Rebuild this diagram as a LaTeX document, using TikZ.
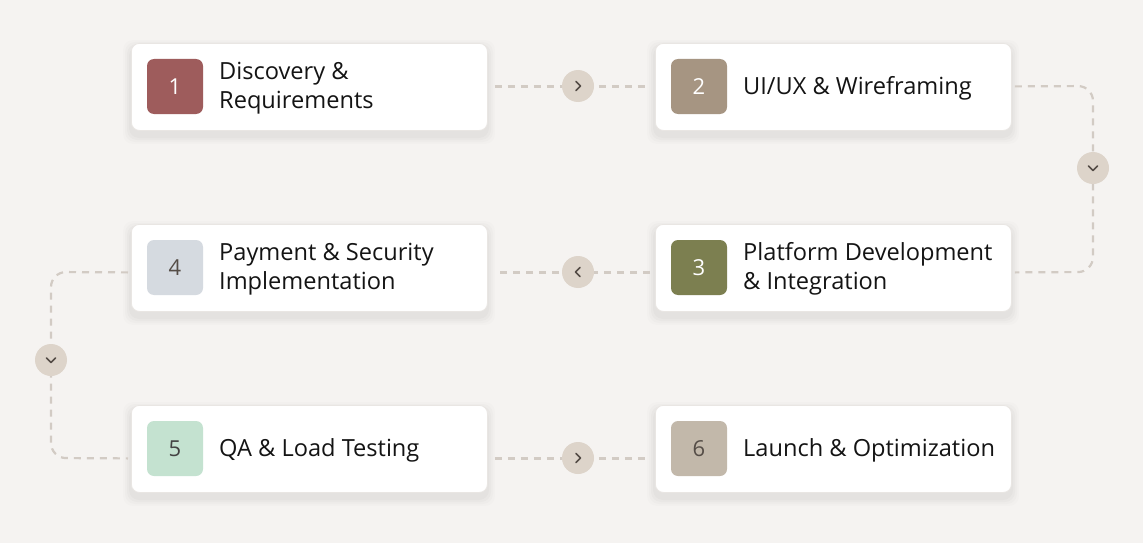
\documentclass[tikz,border=0pt]{standalone}
\usepackage{fontspec}
\setmainfont{Open Sans}
\usetikzlibrary{calc}
\definecolor{bg}{HTML}{F5F3F1}
\definecolor{dashc}{HTML}{D2CBC4}
\definecolor{circ}{HTML}{DDD4CA}
\definecolor{chev}{HTML}{554D47}
\definecolor{txt}{HTML}{141414}
\definecolor{cA}{HTML}{9E5C5C}
\definecolor{cB}{HTML}{A69582}
\definecolor{cC}{HTML}{7C7F50}
\definecolor{cD}{HTML}{D5DAE0}
\definecolor{cE}{HTML}{C4E2D0}
\definecolor{cF}{HTML}{C2B8AA}
\definecolor{edge}{HTML}{E9E6E3}
\tikzset{
  x=1pt,y=-1pt,
  card/.style={draw=edge,line width=0.8pt,fill=white,rounded corners=8pt,minimum width=356pt,minimum height=87pt,inner sep=0pt},
  badge/.style={rounded corners=7pt,minimum width=56pt,minimum height=55pt,inner sep=0pt,font=\fontsize{22}{26}\selectfont},
  label/.style={anchor=west,align=left,text=txt,inner sep=0pt,font=\fontsize{23.6}{28.5}\selectfont},
  flow/.style={dashc,line width=2.2pt,dash pattern=on 7pt off 6pt,rounded corners=15pt},
  knob/.style={circle,fill=circ,minimum size=32pt,inner sep=0pt},
  chv/.style={chev,line width=1.7pt,line cap=round,line join=round}
}
\newcommand{\mycard}[6]{%
  \foreach \k/\o in {8/0.012,6/0.015,4/0.018,2/0.02}{
    \fill[black,opacity=\o,rounded corners=10pt] (#2-\k,#3+5-\k) rectangle (#2+356+\k,#3+87+6+\k);
  }
  \node[card,anchor=north west] (#1) at (#2,#3) {};
  \node[badge,fill=#4] (#1b) at (#2+44,#3+43.5) {#5};
  \node[label] (#1t) at (#2+88,#3+45) {#6};
}
\begin{document}
\begin{tikzpicture}
\fill[bg] (0,0) rectangle (1143,543);
\useasboundingbox (0,0) rectangle (1143,543);

\mycard{s1}{131}{43}{cA}{\textcolor{white}{1}}{Discovery \&\\Requirements}
\mycard{s2}{655}{43}{cB}{\textcolor{white}{2}}{UI/UX \& Wireframing}
\mycard{s3}{655}{224}{cC}{\textcolor{white}{3}}{Platform Development\\\& Integration}
\mycard{s4}{131}{224}{cD}{\textcolor{chev}{4}}{Payment \& Security\\Implementation}
\mycard{s5}{131}{405}{cE}{\textcolor{txt!80}{5}}{QA \& Load Testing}
\mycard{s6}{655}{405}{cF}{\textcolor{chev}{6}}{Launch \& Optimization}

\coordinate (e1) at ($(s1.east)+(7,-0.5)$);
\coordinate (w2) at ($(s2.west)+(-5,-0.5)$);
\coordinate (e2) at ($(s2.east)+(3,-0.5)$);
\coordinate (e3) at ($(s3.east)+(3,4.5)$);
\coordinate (w3) at ($(s3.west)+(-5,4.5)$);
\coordinate (e4) at ($(s4.east)+(7,4.5)$);
\coordinate (w4) at ($(s4.west)+(-3,4.5)$);
\coordinate (w5) at ($(s5.west)+(-3,9.5)$);
\coordinate (e5) at ($(s5.east)+(7,9.5)$);
\coordinate (w6) at ($(s6.west)+(-5,9.5)$);
\coordinate (r1) at (1093,86);
\coordinate (r2) at (1093,272);
\coordinate (l1) at (51,272);
\coordinate (l2) at (51,458);

\draw[flow] (e1) -- (w2);
\draw[flow] (e2) -- (r1) -- (r2) -- (e3);
\draw[flow] (w3) -- (e4);
\draw[flow] (w4) -- (l1) -- (l2) -- (w5);
\draw[flow] (e5) -- (w6);

\node[knob] (k1) at (578,86) {};
\node[knob] (k2) at (1093,168) {};
\node[knob] (k3) at (578,272) {};
\node[knob] (k4) at (51,360) {};
\node[knob] (k5) at (578,458) {};

\draw[chv] ($(k1)+(-2,-4.5)$) -- ($(k1)+(2.5,0)$) -- ($(k1)+(-2,4.5)$);
\draw[chv] ($(k5)+(-2,-4.5)$) -- ($(k5)+(2.5,0)$) -- ($(k5)+(-2,4.5)$);
\draw[chv] ($(k3)+(2,-4.5)$) -- ($(k3)+(-2.5,0)$) -- ($(k3)+(2,4.5)$);
\draw[chv] ($(k2)+(-4.5,-2)$) -- ($(k2)+(0,2.5)$) -- ($(k2)+(4.5,-2)$);
\draw[chv] ($(k4)+(-4.5,-2)$) -- ($(k4)+(0,2.5)$) -- ($(k4)+(4.5,-2)$);
\end{tikzpicture}
\end{document}
